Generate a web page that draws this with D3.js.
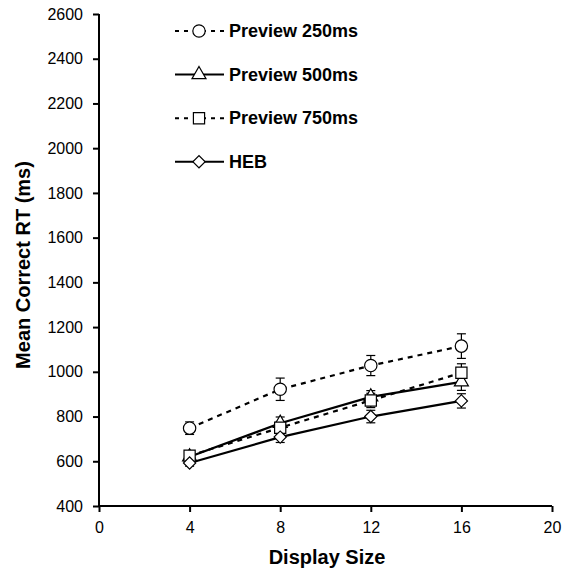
<!DOCTYPE html>
<html>
<head>
<meta charset="utf-8">
<script src="https://cdnjs.cloudflare.com/ajax/libs/d3/7.8.5/d3.min.js"></script>
<style>
  body { margin: 0; background: #fff; }
  text { font-family: Arial, "Liberation Sans", sans-serif; }
</style>
</head>
<body>
<svg id="chart" width="566" height="577"></svg>
<script>
// display sizes on x
var sizes = [4, 8, 12, 16];

var seriesNames = ["Preview 250ms", "Preview 500ms", "Preview 750ms", "HEB"];
var rt250 = [748, 922, 1028, 1115];
var rt500 = [620, 770, 888, 955];
var rt750 = [625, 750, 872, 996];
var rtHEB = [592, 708, 800, 870];

// error bar half widths (ms)
var err250 = [28, 50, 45, 55];
var err500 = [18, 28, 28, 38];
var err750 = [18, 28, 32, 40];
var errHEB = [14, 24, 28, 32];

var xTicks = [0, 4, 8, 12, 16, 20];
var yTicks = [400, 600, 800, 1000, 1200, 1400, 1600, 1800, 2000, 2200, 2400, 2600];

var svg = d3.select("#chart");

var x = d3.scaleLinear().domain([0, 20]).range([99, 552]);
var y = d3.scaleLinear().domain([400, 2600]).range([506, 14]);

var series = [
    { name: seriesNames[0], values: rt250, err: err250, dashed: true, symbol: d3.symbolCircle, size: 120, rot: 0 },
    { name: seriesNames[1], values: rt500, err: err500, dashed: false, symbol: d3.symbolTriangle, size: 85, rot: 0 },
    { name: seriesNames[2], values: rt750, err: err750, dashed: true, symbol: d3.symbolSquare, size: 125, rot: 0 },
    { name: seriesNames[3], values: rtHEB, err: errHEB, dashed: false, symbol: d3.symbolSquare, size: 75, rot: 45 }
];

// axes
var xAxis = svg.append("g")
    .attr("transform", "translate(0," + y(400) + ")")
    .call(d3.axisBottom(x).tickValues(xTicks).tickSize(6).tickPadding(10).tickFormat(d3.format("d")));
var yAxis = svg.append("g")
    .attr("transform", "translate(" + x(0) + ",0)")
    .call(d3.axisLeft(y).tickValues(yTicks).tickSize(6).tickPadding(10).tickFormat(d3.format("d")));

[xAxis, yAxis].forEach(function (a) {
    a.select(".domain").attr("stroke", "#000").attr("stroke-width", 2);
    a.selectAll(".tick line").attr("stroke", "#000").attr("stroke-width", 2);
    a.selectAll(".tick text").attr("font-size", 16).attr("fill", "#000")
        .attr("font-family", "Arial, 'Liberation Sans', sans-serif");
});
xAxis.select(".domain").attr("d", "M" + x(0) + ",0H" + x(20));
yAxis.select(".domain").attr("d", "M0," + y(400) + "V" + y(2600));

svg.append("text")
    .attr("x", 327).attr("y", 564)
    .attr("text-anchor", "middle")
    .attr("font-size", 20).attr("font-weight", "bold")
    .text("Display Size");

svg.append("text")
    .attr("transform", "translate(30," + 265 + ") rotate(-90)")
    .attr("text-anchor", "middle")
    .attr("font-size", 20).attr("font-weight", "bold")
    .text("Mean Correct RT (ms)");

var line = d3.line()
    .x(function (d, i) { return x(sizes[i]); })
    .y(function (d) { return y(d); });

// error bars first
series.forEach(function (s) {
    var g = svg.append("g");
    s.values.forEach(function (v, i) {
        var cx = x(sizes[i]);
        var t = y(v + s.err[i]), b = y(v - s.err[i]);
        g.append("line").attr("x1", cx).attr("x2", cx).attr("y1", t).attr("y2", b)
            .attr("stroke", "#000").attr("stroke-width", 1.2);
        g.append("line").attr("x1", cx - 4.5).attr("x2", cx + 4.5).attr("y1", t).attr("y2", t)
            .attr("stroke", "#000").attr("stroke-width", 1.2);
        g.append("line").attr("x1", cx - 4.5).attr("x2", cx + 4.5).attr("y1", b).attr("y2", b)
            .attr("stroke", "#000").attr("stroke-width", 1.2);
    });
});

series.forEach(function (s) {
    svg.append("path")
        .datum(s.values)
        .attr("d", line)
        .attr("fill", "none")
        .attr("stroke", "#000")
        .attr("stroke-width", 2.2)
        .attr("stroke-dasharray", s.dashed ? "5,5" : null);
});

series.forEach(function (s) {
    var sym = d3.symbol().type(s.symbol).size(s.size);
    svg.selectAll(null)
        .data(s.values)
        .enter().append("path")
        .attr("d", sym)
        .attr("transform", function (d, i) {
            return "translate(" + x(sizes[i]) + "," + y(d) + ") rotate(" + s.rot + ")";
        })
        .attr("fill", "#fff")
        .attr("stroke", "#000")
        .attr("stroke-width", 1.2);
});

// legend
var legend = svg.selectAll(".legend")
    .data(series)
    .enter().append("g")
    .attr("class", "legend")
    .attr("transform", function (d, i) { return "translate(175," + (31 + i * 43.6) + ")"; });

legend.append("line")
    .attr("x1", 0).attr("x2", 49).attr("y1", 0).attr("y2", 0)
    .attr("stroke", "#000").attr("stroke-width", 2)
    .attr("stroke-dasharray", function (d) { return d.dashed ? "4,5" : null; });

legend.append("path")
    .attr("d", function (d) { return d3.symbol().type(d.symbol).size(d.size)(); })
    .attr("transform", function (d) { return "translate(24,0) rotate(" + d.rot + ")"; })
    .attr("fill", "#fff").attr("stroke", "#000").attr("stroke-width", 1.2);

legend.append("text")
    .attr("x", 54).attr("y", 6)
    .attr("font-size", 18).attr("font-weight", "bold")
    .text(function (d) { return d.name; });
</script>
</body>
</html>
